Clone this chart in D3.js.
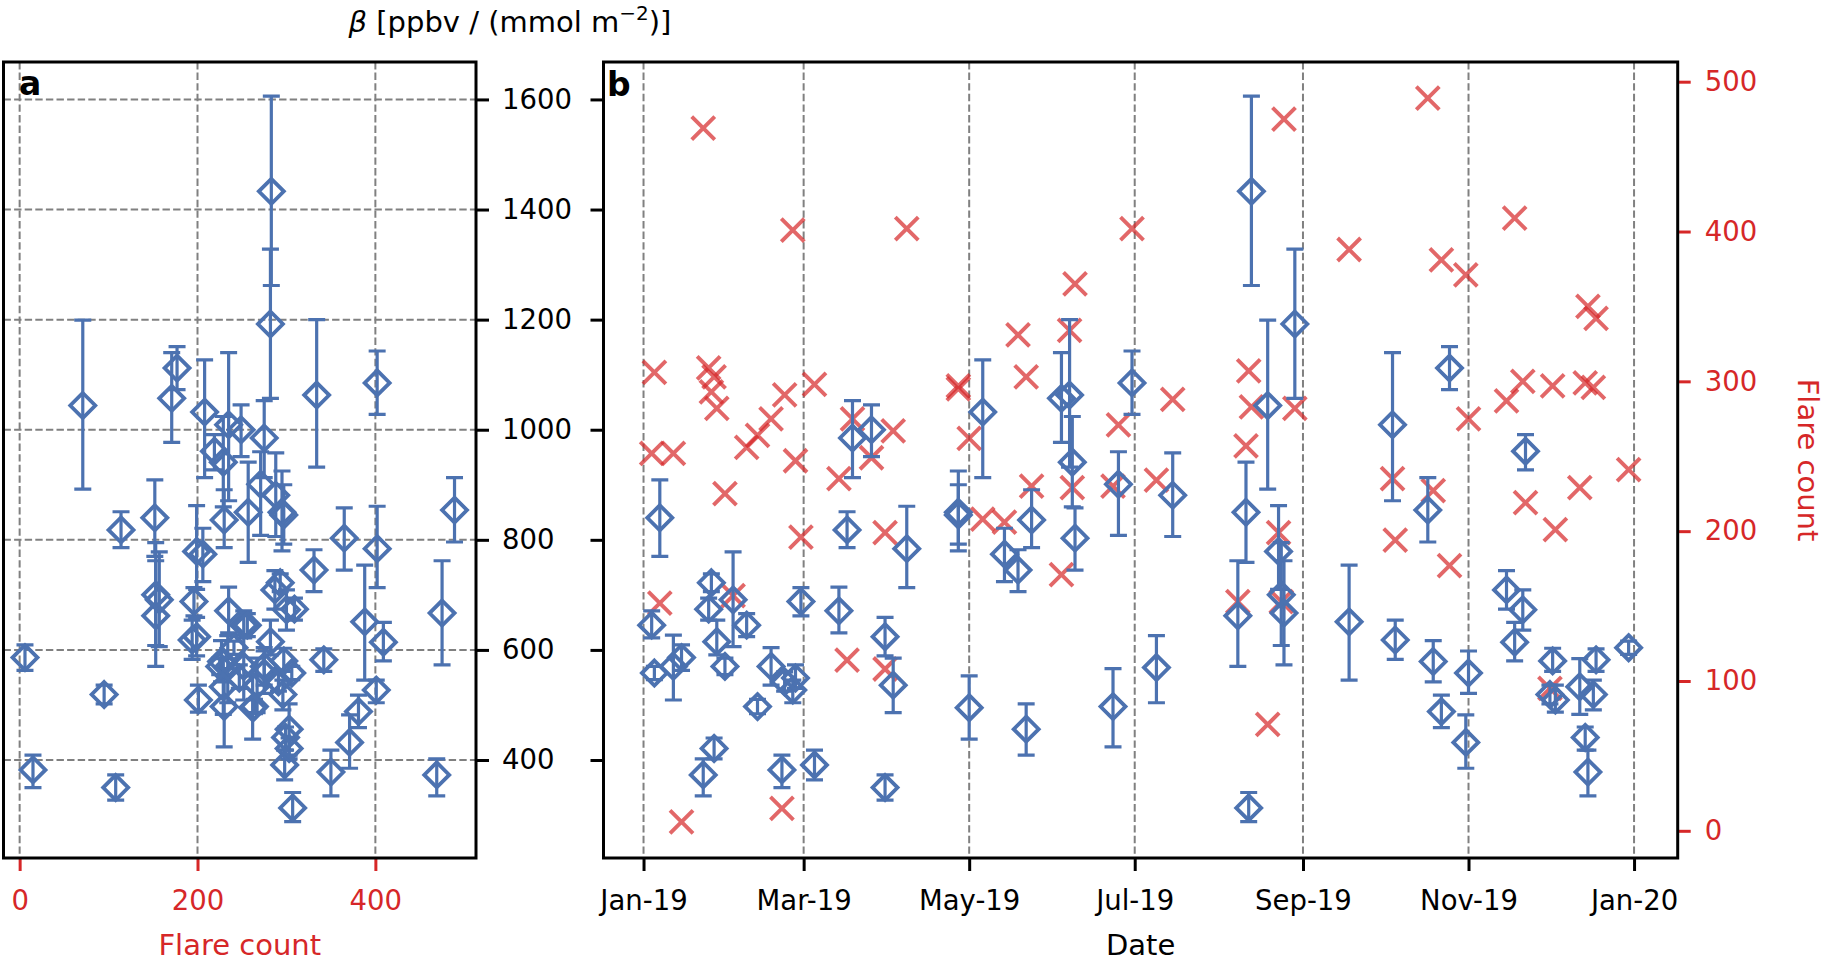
<!DOCTYPE html>
<html><head><meta charset="utf-8">
<script src="https://cdn.jsdelivr.net/npm/d3@7"></script>
<style>
html,body{margin:0;padding:0;background:#fff;}
svg{display:block;}
</style></head><body>
<svg id="chart" width="1827" height="963"></svg>
<script>
// ---------- data ----------
const dates = ["2019-01-04","2019-01-05","2019-01-07","2019-01-12","2019-01-15","2019-01-23","2019-01-25","2019-01-26","2019-01-27","2019-01-28",
"2019-01-31","2019-02-03","2019-02-08","2019-02-12","2019-02-17","2019-02-21","2019-02-22","2019-02-25","2019-02-26","2019-02-28",
"2019-03-05","2019-03-14","2019-03-17","2019-03-19","2019-03-26","2019-03-31","2019-03-31","2019-04-03","2019-04-08","2019-04-27",
"2019-04-27","2019-05-01","2019-05-06","2019-05-14","2019-05-19","2019-05-22","2019-05-24","2019-06-04","2019-06-07","2019-06-08",
"2019-06-09","2019-06-23","2019-06-25","2019-06-30","2019-07-09","2019-07-15","2019-08-08","2019-08-11","2019-08-12","2019-08-13",
"2019-08-19","2019-08-23","2019-08-24","2019-08-25","2019-08-29","2019-09-18","2019-10-04","2019-10-05","2019-10-17","2019-10-19",
"2019-10-22","2019-10-25","2019-10-31","2019-11-01","2019-11-15","2019-11-18","2019-11-21","2019-11-22","2019-12-01","2019-12-02",
"2019-12-03","2019-12-12","2019-12-14","2019-12-15","2019-12-17","2019-12-18","2019-12-30"];
const beta = [645,558,840,570,586,373,674,722,421,615,
570,691,645,497,570,382,542,527,549,688,
391,671,818,985,1000,624,350,536,784,850,
845,495,1032,774,745,456,836,1057,1063,941,
803,497,901,1085,568,881,662,850,313,1433,
1044,779,700,667,1192,651,1009,618,854,579,
488,1112,432,558,709,614,673,961,519,580,
509,533,441,378,519,582,604];
const betaHi = [671,570,909,627,609,402,694,738,440,654,
585,778,666,510,604,409,560,545,573,713,
418,714,851,1053,1045,659,373,585,861,925,
900,553,1127,821,782,502,891,1140,1200,1024,
858,566,960,1143,626,958,762,941,341,1606,
1199,862,795,762,1328,754,1140,654,913,617,
518,1151,482,598,744,650,709,991,536,603,
536,584,460,418,545,602,616];
const betaLo = [622,546,770,509,563,335,654,706,402,591,
555,606,624,484,536,350,525,504,530,662,
364,631,786,913,951,589,327,486,713,780,
792,438,913,724,706,409,786,977,932,860,
745,424,808,1028,504,806,570,759,288,1262,
892,710,608,573,1057,545,871,583,796,542,
459,1073,385,521,674,580,636,927,502,561,
487,483,418,335,491,561,592];
const flare = [252,306,152,252,6,469,309,293,303,282,
225,157,256,264,275,15,291,401,247,196,
298,235,114,275,249,199,108,267,402,295,
297,262,208,206,331,303,230,171,334,229,
365,230,271,402,234,288,153,257,307,283,
71,199,153,475,282,388,235,194,489,227,
381,177,371,275,287,409,300,219,95,297,
201,229,299,350,296,342,241];
const betaTicks = [400,600,800,1000,1200,1400,1600];
const flareTicksA = [0,200,400];
const flareTicksB = [0,100,200,300,400,500];

// ---------- setup ----------
const FONT = "'DejaVu Sans', sans-serif";
const FS = 27.5;     // tick labels
const FL = 29;       // axis labels
const blue = "#4c72b0", red = "#d62728", gridCol = "#808080";
const A = {l:3.5, r:476, t:62, b:858};
const B = {l:603.5, r:1677.7, t:62, b:858};
const parse = d3.utcParse("%Y-%m-%d");
const rows = dates.map((d,i)=>({date:parse(d), beta:beta[i], hi:betaHi[i], lo:betaLo[i], flare:flare[i]}));

const yBeta = d3.scaleLinear().domain([222,1668]).range([A.b,A.t]);
const xFlare = d3.scaleLinear().domain([-18.15,513.15]).range([A.l,A.r]);
const xDate = d3.scaleUtc().domain([new Date(Date.UTC(2018,11,17,6)), new Date(Date.UTC(2020,0,17,2))]).range([B.l,B.r]);
const yFlare = d3.scaleLinear().domain([-18.15,513.15]).range([B.b,B.t]);

const svg = d3.select("#chart").attr("font-family", FONT);

// ---------- grids ----------
const grid = svg.append("g").attr("stroke", gridCol).attr("stroke-width", 2).attr("stroke-dasharray","7.4,3.2").attr("fill","none");
grid.selectAll("line.va").data(flareTicksA).join("line").attr("class","va")
  .attr("x1",d=>xFlare(d)).attr("x2",d=>xFlare(d)).attr("y1",A.t).attr("y2",A.b);
grid.selectAll("line.ha").data(betaTicks).join("line").attr("class","ha")
  .attr("x1",A.l).attr("x2",A.r).attr("y1",d=>yBeta(d)).attr("y2",d=>yBeta(d));
const monthTicks = xDate.ticks(d3.utcMonth.every(2));
grid.selectAll("line.vb").data(monthTicks).join("line").attr("class","vb")
  .attr("x1",d=>xDate(d)).attr("x2",d=>xDate(d)).attr("y1",B.t).attr("y2",B.b);

// ---------- markers ----------
const diamond = "M0,-12.5L12.5,0L0,12.5L-12.5,0Z";
const cross = "M-11.5,-11.5L11.5,11.5M-11.5,11.5L11.5,-11.5";
const capW = 8.5;

function errorbars(g, xf){
  const eb = g.append("g").attr("stroke", blue).attr("stroke-width", 3.2).attr("fill","none");
  eb.selectAll("path").data(rows).join("path")
    .attr("d", d=>{
      const x = xf(d), y1 = yBeta(d.hi), y2 = yBeta(d.lo);
      return `M${x},${y1}L${x},${y2}M${x-capW},${y1}L${x+capW},${y1}M${x-capW},${y2}L${x+capW},${y2}`;
    });
  g.append("g").selectAll("path").data(rows).join("path")
    .attr("d", diamond)
    .attr("transform", d=>`translate(${xf(d)},${yBeta(d.beta)})`)
    .attr("fill","none").attr("stroke", blue).attr("stroke-width", 3.8);
}

// panel a
const pa = svg.append("g");
errorbars(pa, d=>xFlare(d.flare));

// panel b: flare crosses then beta
const pb = svg.append("g");
pb.append("g").selectAll("path").data(rows).join("path")
  .attr("d", cross)
  .attr("transform", d=>`translate(${xDate(d.date)},${yFlare(d.flare)})`)
  .attr("fill","none").attr("stroke", red).attr("stroke-width", 3.9).attr("stroke-opacity", 0.7);
errorbars(pb, d=>xDate(d.date));

// ---------- axes ----------
function styleAxis(g, color){
  g.select(".domain").remove();
  g.attr("font-family", FONT).attr("font-size", FS);
  g.selectAll(".tick line").attr("stroke", color).attr("stroke-width", 3);
  g.selectAll(".tick text").attr("fill", color).attr("font-size", FS).attr("font-family", FONT);
}
svg.append("g").attr("transform",`translate(${A.r},0)`)
  .call(d3.axisRight(yBeta).tickValues(betaTicks).tickSize(13).tickPadding(13).tickFormat(d3.format("d")))
  .call(styleAxis, "#000");
svg.append("g").attr("transform",`translate(0,${A.b})`)
  .call(d3.axisBottom(xFlare).tickValues(flareTicksA).tickSize(13).tickPadding(19).tickFormat(d3.format("d")))
  .call(styleAxis, red);
svg.append("g").attr("transform",`translate(${B.l},0)`)
  .call(d3.axisLeft(yBeta).tickValues(betaTicks).tickSize(13).tickFormat(""))
  .call(styleAxis, "#000");
svg.append("g").attr("transform",`translate(${B.r},0)`)
  .call(d3.axisRight(yFlare).tickValues(flareTicksB).tickSize(13).tickPadding(14).tickFormat(d3.format("d")))
  .call(styleAxis, red);
svg.append("g").attr("transform",`translate(0,${B.b})`)
  .call(d3.axisBottom(xDate).tickValues(monthTicks).tickSize(13).tickPadding(19).tickFormat(d3.utcFormat("%b-%y")))
  .call(styleAxis, "#000");

// ---------- spines ----------
[A,B].forEach(p=>{
  svg.append("rect").attr("x",p.l).attr("y",p.t).attr("width",p.r-p.l).attr("height",p.b-p.t)
    .attr("fill","none").attr("stroke","#000").attr("stroke-width",3);
});

// ---------- labels ----------
svg.append("text").attr("x",19).attr("y",95).attr("font-size",33).attr("font-weight","bold").text("a");
svg.append("text").attr("x",607).attr("y",96).attr("font-size",33).attr("font-weight","bold").text("b");

svg.append("text").attr("x",(A.l+A.r)/2).attr("y",955).attr("text-anchor","middle")
  .attr("font-size",FL).attr("fill",red).text("Flare count");
svg.append("text").attr("x",(B.l+B.r)/2).attr("y",955).attr("text-anchor","middle")
  .attr("font-size",FL).attr("fill","#000").text("Date");
svg.append("text").attr("transform",`translate(1798,${(B.t+B.b)/2}) rotate(90)`).attr("text-anchor","middle")
  .attr("font-size",FL).attr("fill",red).text("Flare count");

const tl = svg.append("text").attr("x",510).attr("y",32).attr("text-anchor","middle").attr("font-size",FL).attr("fill","#000");
tl.append("tspan").attr("font-style","italic").text("β");
tl.append("tspan").text(" [ppbv / (mmol m");
tl.append("tspan").attr("dy",-12).attr("font-size",20).text("−2");
tl.append("tspan").attr("dy",12).text(")]");
</script>
</body></html>
